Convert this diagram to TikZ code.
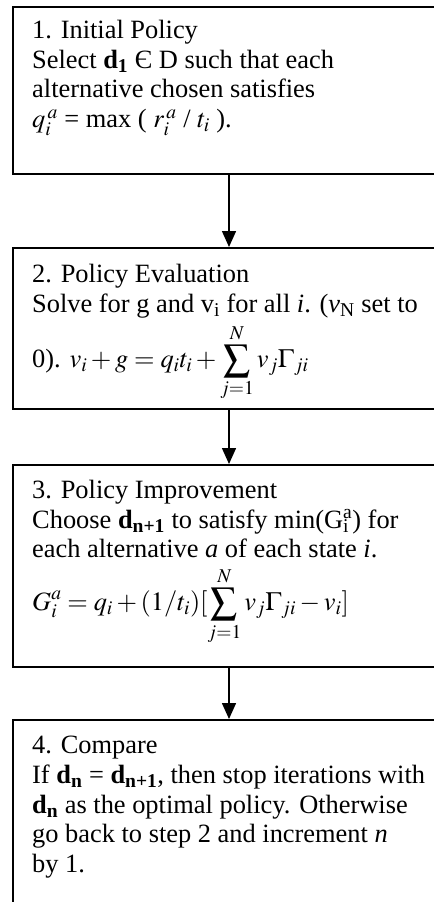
\documentclass[tikz,border=0pt]{standalone}
\usepackage{mathptmx}
\usepackage[no-math]{fontspec}
\setmainfont{Liberation Serif}
\usetikzlibrary{positioning,arrows.meta}

\begin{document}
\begin{tikzpicture}[x=1bp, y=-1bp,
  every node/.style={font=\fontsize{26.5}{29.8}\selectfont},
  stepbox/.style={rectangle, draw, line width=2bp, minimum width=432bp, inner sep=0pt},
  steptxt/.style={anchor=north west, inner sep=0pt, align=left},
  flow/.style={line width=1.5bp, -{Triangle[width=14bp, length=16bp]}}
]
\useasboundingbox (0,0) rectangle (434,902);
\clip (0,0) rectangle (434,902);
% the four steps (right side and bottom run off the page)
\node[stepbox, minimum height=167bp, anchor=north west] (box1) at (12,6) {};
\node[stepbox, minimum height=161bp, below=72bp of box1] (box2) {};
\node[stepbox, minimum height=202bp, below=54bp of box2] (box3) {};
\node[stepbox, minimum height=250bp, below=51bp of box3] (box4) {};
% arrows between steps
\draw[flow] (box1) -- (box2);
\draw[flow] (box2) -- (box3);
\draw[flow] (box3) -- (box4);
% text of each step
\node[steptxt] (txt1) at ([shift={(20,14)}]box1.north west) {%
  1. Initial Policy\\
  Select \textbf{d\textsubscript{1}} Є D such that each\\
  alternative chosen satisfies\\
  $q_i^{\,a}$ = max ( $r_i^{\,a}$ / $t_i$ ).};
\node[steptxt] (txt2) at ([shift={(20,17)}]box2.north west) {%
  2. Policy Evaluation\\
  Solve for g and v\textsubscript{i} for all \textit{i}. (\textit{v}\textsubscript{N} set to\\[5bp]
  0). $\displaystyle v_i+g=q_it_i+\sum_{j=1}^{N}v_j\Gamma_{ji}$};
\node[steptxt] (txt3) at ([shift={(20,16)}]box3.north west) {%
  3. Policy Improvement\\
  Choose \textbf{d\textsubscript{n+1}} to satisfy min(G\rlap{\textsubscript{i}}\textsuperscript{a}) for\\
  each alternative \textit{a} of each state \textit{i}.\\[8bp]
  $\displaystyle G_i^a=q_i+(1/t_i)[\sum_{j=1}^{N}v_j\Gamma_{ji}-v_i]$};
\node[steptxt] (txt4) at ([shift={(20,17)}]box4.north west) {%
  4. Compare\\
  If \textbf{d\textsubscript{n}} = \textbf{d\textsubscript{n+1}}, then stop iterations with\\
  \textbf{d\textsubscript{n}} as the optimal policy. Otherwise\\
  go back to step 2 and increment \textit{n}\\
  by 1.};
\end{tikzpicture}
\end{document}
